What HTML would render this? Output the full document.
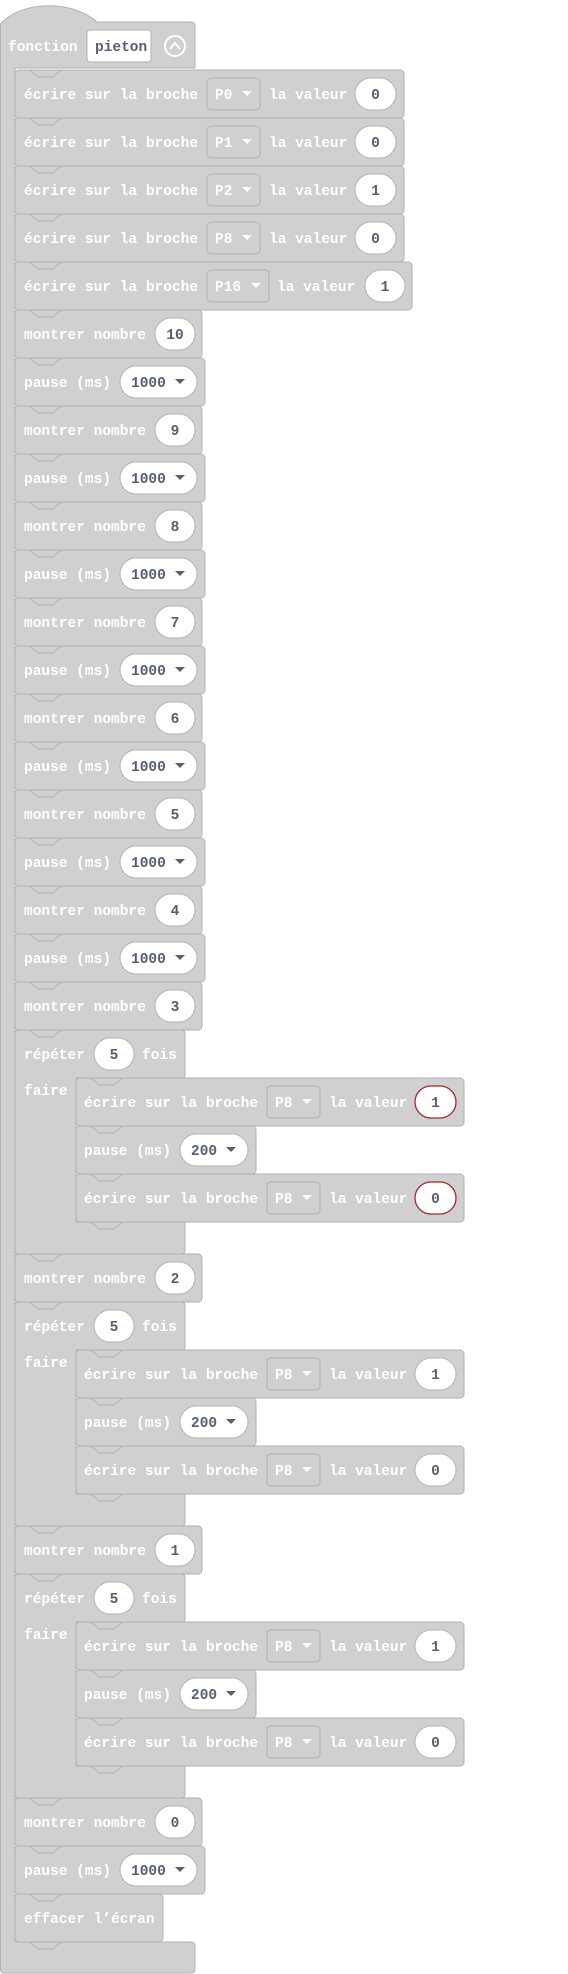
<!DOCTYPE html>
<html><head><meta charset="utf-8"><style>
html,body{margin:0;padding:0;background:#fff;width:568px;height:1974px;overflow:hidden}
svg{display:block}
.b{fill:#d0d0d0;stroke:#b2b2b2;stroke-width:1}
.n{fill:none;stroke:#b2b2b2;stroke-width:1}
.dd{fill:#d0d0d0;stroke:#b2b2b2}
.pl{fill:#fff;stroke:#b2b2b2}
.pr{fill:#fff;stroke:#a3282f;stroke-width:1.3}
.a{fill:#fff}
.ad{fill:#575e75}
text{font-family:"Liberation Mono",monospace;font-weight:bold;font-size:14.5px;fill:#fff}
text.v{fill:#575e75;text-anchor:middle}
text.d{fill:#575e75}
</style></head><body>
<svg width="568" height="1974" viewBox="0 0 568 1974" xmlns="http://www.w3.org/2000/svg">
<!-- function outer -->
<path class="b" d="M0.5,24 C22,0 72,0 97,22 H191 Q195,22 195,26 V68 H15 V1942 H191 Q195,1942 195,1946 V1969 Q195,1973 191,1973 H4 Q0.5,1973 0.5,1969 Z"/>
<path class="n" d="M30,1942 L38,1949 H53 L61,1942"/>
<text x="8" y="51">fonction</text>
<rect x="87" y="30" width="64" height="32" rx="3" fill="#fff" stroke="#b2b2b2"/>
<text class="d" x="95" y="51">pieton</text>
<circle cx="175" cy="46" r="10" fill="none" stroke="#fff" stroke-width="2"/>
<path d="M170,49 L175,43 L180,49" fill="none" stroke="#fff" stroke-width="2"/>

<!-- write blocks -->
<g transform="translate(15,70)"><rect class="b" width="389" height="48" rx="4"/><path class="n" d="M15,0 L23,7 H38 L46,0"/><text x="9" y="29">écrire sur la broche</text><rect class="dd" x="192" y="8" width="53" height="32" rx="4"/><text x="200" y="29">P0</text><path class="a" d="M227,21 h10 l-5,5z"/><text x="254" y="29">la valeur</text><rect class="pl" x="340" y="8" width="41" height="32" rx="16"/><text class="v" x="360.5" y="29">0</text></g>
<g transform="translate(15,118)"><rect class="b" width="389" height="48" rx="4"/><path class="n" d="M15,0 L23,7 H38 L46,0"/><text x="9" y="29">écrire sur la broche</text><rect class="dd" x="192" y="8" width="53" height="32" rx="4"/><text x="200" y="29">P1</text><path class="a" d="M227,21 h10 l-5,5z"/><text x="254" y="29">la valeur</text><rect class="pl" x="340" y="8" width="41" height="32" rx="16"/><text class="v" x="360.5" y="29">0</text></g>
<g transform="translate(15,166)"><rect class="b" width="389" height="48" rx="4"/><path class="n" d="M15,0 L23,7 H38 L46,0"/><text x="9" y="29">écrire sur la broche</text><rect class="dd" x="192" y="8" width="53" height="32" rx="4"/><text x="200" y="29">P2</text><path class="a" d="M227,21 h10 l-5,5z"/><text x="254" y="29">la valeur</text><rect class="pl" x="340" y="8" width="41" height="32" rx="16"/><text class="v" x="360.5" y="29">1</text></g>
<g transform="translate(15,214)"><rect class="b" width="389" height="48" rx="4"/><path class="n" d="M15,0 L23,7 H38 L46,0"/><text x="9" y="29">écrire sur la broche</text><rect class="dd" x="192" y="8" width="53" height="32" rx="4"/><text x="200" y="29">P8</text><path class="a" d="M227,21 h10 l-5,5z"/><text x="254" y="29">la valeur</text><rect class="pl" x="340" y="8" width="41" height="32" rx="16"/><text class="v" x="360.5" y="29">0</text></g>
<g transform="translate(15,262)"><rect class="b" width="397" height="48" rx="4"/><path class="n" d="M15,0 L23,7 H38 L46,0"/><text x="9" y="29">écrire sur la broche</text><rect class="dd" x="192" y="8" width="62" height="32" rx="4"/><text x="200" y="29">P16</text><path class="a" d="M236,21 h10 l-5,5z"/><text x="262" y="29">la valeur</text><rect class="pl" x="350" y="8" width="40" height="32" rx="16"/><text class="v" x="370" y="29">1</text></g>

<!-- montrer / pause sequence -->
<g transform="translate(15,310)"><rect class="b" width="187" height="48" rx="4"/><path class="n" d="M15,0 L23,7 H38 L46,0"/><text x="9" y="29">montrer nombre</text><rect class="pl" x="140" y="8" width="40" height="32" rx="16"/><text class="v" x="160" y="29">10</text></g>
<g transform="translate(15,358)"><rect class="b" width="190" height="48" rx="4"/><path class="n" d="M15,0 L23,7 H38 L46,0"/><text x="9" y="29">pause (ms)</text><rect class="pl" x="105" y="8" width="77" height="32" rx="16"/><text class="d" x="116" y="29">1000</text><path class="ad" d="M160,21 h10 l-5,5z"/></g>
<g transform="translate(15,406)"><rect class="b" width="187" height="48" rx="4"/><path class="n" d="M15,0 L23,7 H38 L46,0"/><text x="9" y="29">montrer nombre</text><rect class="pl" x="140" y="8" width="40" height="32" rx="16"/><text class="v" x="160" y="29">9</text></g>
<g transform="translate(15,454)"><rect class="b" width="190" height="48" rx="4"/><path class="n" d="M15,0 L23,7 H38 L46,0"/><text x="9" y="29">pause (ms)</text><rect class="pl" x="105" y="8" width="77" height="32" rx="16"/><text class="d" x="116" y="29">1000</text><path class="ad" d="M160,21 h10 l-5,5z"/></g>
<g transform="translate(15,502)"><rect class="b" width="187" height="48" rx="4"/><path class="n" d="M15,0 L23,7 H38 L46,0"/><text x="9" y="29">montrer nombre</text><rect class="pl" x="140" y="8" width="40" height="32" rx="16"/><text class="v" x="160" y="29">8</text></g>
<g transform="translate(15,550)"><rect class="b" width="190" height="48" rx="4"/><path class="n" d="M15,0 L23,7 H38 L46,0"/><text x="9" y="29">pause (ms)</text><rect class="pl" x="105" y="8" width="77" height="32" rx="16"/><text class="d" x="116" y="29">1000</text><path class="ad" d="M160,21 h10 l-5,5z"/></g>
<g transform="translate(15,598)"><rect class="b" width="187" height="48" rx="4"/><path class="n" d="M15,0 L23,7 H38 L46,0"/><text x="9" y="29">montrer nombre</text><rect class="pl" x="140" y="8" width="40" height="32" rx="16"/><text class="v" x="160" y="29">7</text></g>
<g transform="translate(15,646)"><rect class="b" width="190" height="48" rx="4"/><path class="n" d="M15,0 L23,7 H38 L46,0"/><text x="9" y="29">pause (ms)</text><rect class="pl" x="105" y="8" width="77" height="32" rx="16"/><text class="d" x="116" y="29">1000</text><path class="ad" d="M160,21 h10 l-5,5z"/></g>
<g transform="translate(15,694)"><rect class="b" width="187" height="48" rx="4"/><path class="n" d="M15,0 L23,7 H38 L46,0"/><text x="9" y="29">montrer nombre</text><rect class="pl" x="140" y="8" width="40" height="32" rx="16"/><text class="v" x="160" y="29">6</text></g>
<g transform="translate(15,742)"><rect class="b" width="190" height="48" rx="4"/><path class="n" d="M15,0 L23,7 H38 L46,0"/><text x="9" y="29">pause (ms)</text><rect class="pl" x="105" y="8" width="77" height="32" rx="16"/><text class="d" x="116" y="29">1000</text><path class="ad" d="M160,21 h10 l-5,5z"/></g>
<g transform="translate(15,790)"><rect class="b" width="187" height="48" rx="4"/><path class="n" d="M15,0 L23,7 H38 L46,0"/><text x="9" y="29">montrer nombre</text><rect class="pl" x="140" y="8" width="40" height="32" rx="16"/><text class="v" x="160" y="29">5</text></g>
<g transform="translate(15,838)"><rect class="b" width="190" height="48" rx="4"/><path class="n" d="M15,0 L23,7 H38 L46,0"/><text x="9" y="29">pause (ms)</text><rect class="pl" x="105" y="8" width="77" height="32" rx="16"/><text class="d" x="116" y="29">1000</text><path class="ad" d="M160,21 h10 l-5,5z"/></g>
<g transform="translate(15,886)"><rect class="b" width="187" height="48" rx="4"/><path class="n" d="M15,0 L23,7 H38 L46,0"/><text x="9" y="29">montrer nombre</text><rect class="pl" x="140" y="8" width="40" height="32" rx="16"/><text class="v" x="160" y="29">4</text></g>
<g transform="translate(15,934)"><rect class="b" width="190" height="48" rx="4"/><path class="n" d="M15,0 L23,7 H38 L46,0"/><text x="9" y="29">pause (ms)</text><rect class="pl" x="105" y="8" width="77" height="32" rx="16"/><text class="d" x="116" y="29">1000</text><path class="ad" d="M160,21 h10 l-5,5z"/></g>
<g transform="translate(15,982)"><rect class="b" width="187" height="48" rx="4"/><path class="n" d="M15,0 L23,7 H38 L46,0"/><text x="9" y="29">montrer nombre</text><rect class="pl" x="140" y="8" width="40" height="32" rx="16"/><text class="v" x="160" y="29">3</text></g>

<!-- repeat 1 -->
<g transform="translate(15,1030)">
<path class="b" d="M0,4 Q0,0 4,0 H166 Q170,0 170,4 V48 H61 V192 H170 V220 Q170,224 166,224 H4 Q0,224 0,220 Z"/>
<path class="n" d="M15,0 L23,7 H38 L46,0"/><path class="n" d="M76,192 L84,199 H99 L107,192"/>
<text x="9" y="29">répéter</text><rect class="pl" x="79" y="8" width="40" height="32" rx="16"/><text class="v" x="99" y="29">5</text><text x="127" y="29">fois</text>
<text x="9" y="65">faire</text>
</g>
<g transform="translate(76,1078)"><rect class="b" width="388" height="48" rx="4"/><path class="n" d="M15,0 L23,7 H38 L46,0"/><text x="8" y="29">écrire sur la broche</text><rect class="dd" x="191" y="8" width="53" height="32" rx="4"/><text x="199" y="29">P8</text><path class="a" d="M226,21 h10 l-5,5z"/><text x="253" y="29">la valeur</text><rect class="pr" x="339" y="8" width="41" height="32" rx="16"/><text class="v" x="359.5" y="29">1</text></g>
<g transform="translate(76,1126)"><rect class="b" width="180" height="48" rx="4"/><path class="n" d="M15,0 L23,7 H38 L46,0"/><text x="8" y="29">pause (ms)</text><rect class="pl" x="104" y="8" width="68" height="32" rx="16"/><text class="d" x="115" y="29">200</text><path class="ad" d="M150,21 h10 l-5,5z"/></g>
<g transform="translate(76,1174)"><rect class="b" width="388" height="48" rx="4"/><path class="n" d="M15,0 L23,7 H38 L46,0"/><text x="8" y="29">écrire sur la broche</text><rect class="dd" x="191" y="8" width="53" height="32" rx="4"/><text x="199" y="29">P8</text><path class="a" d="M226,21 h10 l-5,5z"/><text x="253" y="29">la valeur</text><rect class="pr" x="339" y="8" width="41" height="32" rx="16"/><text class="v" x="359.5" y="29">0</text></g>

<g transform="translate(15,1254)"><rect class="b" width="187" height="48" rx="4"/><path class="n" d="M15,0 L23,7 H38 L46,0"/><text x="9" y="29">montrer nombre</text><rect class="pl" x="140" y="8" width="40" height="32" rx="16"/><text class="v" x="160" y="29">2</text></g>

<!-- repeat 2 -->
<g transform="translate(15,1302)">
<path class="b" d="M0,4 Q0,0 4,0 H166 Q170,0 170,4 V48 H61 V192 H170 V220 Q170,224 166,224 H4 Q0,224 0,220 Z"/>
<path class="n" d="M15,0 L23,7 H38 L46,0"/><path class="n" d="M76,192 L84,199 H99 L107,192"/>
<text x="9" y="29">répéter</text><rect class="pl" x="79" y="8" width="40" height="32" rx="16"/><text class="v" x="99" y="29">5</text><text x="127" y="29">fois</text>
<text x="9" y="65">faire</text>
</g>
<g transform="translate(76,1350)"><rect class="b" width="388" height="48" rx="4"/><path class="n" d="M15,0 L23,7 H38 L46,0"/><text x="8" y="29">écrire sur la broche</text><rect class="dd" x="191" y="8" width="53" height="32" rx="4"/><text x="199" y="29">P8</text><path class="a" d="M226,21 h10 l-5,5z"/><text x="253" y="29">la valeur</text><rect class="pl" x="339" y="8" width="41" height="32" rx="16"/><text class="v" x="359.5" y="29">1</text></g>
<g transform="translate(76,1398)"><rect class="b" width="180" height="48" rx="4"/><path class="n" d="M15,0 L23,7 H38 L46,0"/><text x="8" y="29">pause (ms)</text><rect class="pl" x="104" y="8" width="68" height="32" rx="16"/><text class="d" x="115" y="29">200</text><path class="ad" d="M150,21 h10 l-5,5z"/></g>
<g transform="translate(76,1446)"><rect class="b" width="388" height="48" rx="4"/><path class="n" d="M15,0 L23,7 H38 L46,0"/><text x="8" y="29">écrire sur la broche</text><rect class="dd" x="191" y="8" width="53" height="32" rx="4"/><text x="199" y="29">P8</text><path class="a" d="M226,21 h10 l-5,5z"/><text x="253" y="29">la valeur</text><rect class="pl" x="339" y="8" width="41" height="32" rx="16"/><text class="v" x="359.5" y="29">0</text></g>

<g transform="translate(15,1526)"><rect class="b" width="187" height="48" rx="4"/><path class="n" d="M15,0 L23,7 H38 L46,0"/><text x="9" y="29">montrer nombre</text><rect class="pl" x="140" y="8" width="40" height="32" rx="16"/><text class="v" x="160" y="29">1</text></g>

<!-- repeat 3 -->
<g transform="translate(15,1574)">
<path class="b" d="M0,4 Q0,0 4,0 H166 Q170,0 170,4 V48 H61 V192 H170 V220 Q170,224 166,224 H4 Q0,224 0,220 Z"/>
<path class="n" d="M15,0 L23,7 H38 L46,0"/><path class="n" d="M76,192 L84,199 H99 L107,192"/>
<text x="9" y="29">répéter</text><rect class="pl" x="79" y="8" width="40" height="32" rx="16"/><text class="v" x="99" y="29">5</text><text x="127" y="29">fois</text>
<text x="9" y="65">faire</text>
</g>
<g transform="translate(76,1622)"><rect class="b" width="388" height="48" rx="4"/><path class="n" d="M15,0 L23,7 H38 L46,0"/><text x="8" y="29">écrire sur la broche</text><rect class="dd" x="191" y="8" width="53" height="32" rx="4"/><text x="199" y="29">P8</text><path class="a" d="M226,21 h10 l-5,5z"/><text x="253" y="29">la valeur</text><rect class="pl" x="339" y="8" width="41" height="32" rx="16"/><text class="v" x="359.5" y="29">1</text></g>
<g transform="translate(76,1670)"><rect class="b" width="180" height="48" rx="4"/><path class="n" d="M15,0 L23,7 H38 L46,0"/><text x="8" y="29">pause (ms)</text><rect class="pl" x="104" y="8" width="68" height="32" rx="16"/><text class="d" x="115" y="29">200</text><path class="ad" d="M150,21 h10 l-5,5z"/></g>
<g transform="translate(76,1718)"><rect class="b" width="388" height="48" rx="4"/><path class="n" d="M15,0 L23,7 H38 L46,0"/><text x="8" y="29">écrire sur la broche</text><rect class="dd" x="191" y="8" width="53" height="32" rx="4"/><text x="199" y="29">P8</text><path class="a" d="M226,21 h10 l-5,5z"/><text x="253" y="29">la valeur</text><rect class="pl" x="339" y="8" width="41" height="32" rx="16"/><text class="v" x="359.5" y="29">0</text></g>

<g transform="translate(15,1798)"><rect class="b" width="187" height="48" rx="4"/><path class="n" d="M15,0 L23,7 H38 L46,0"/><text x="9" y="29">montrer nombre</text><rect class="pl" x="140" y="8" width="40" height="32" rx="16"/><text class="v" x="160" y="29">0</text></g>
<g transform="translate(15,1846)"><rect class="b" width="190" height="48" rx="4"/><path class="n" d="M15,0 L23,7 H38 L46,0"/><text x="9" y="29">pause (ms)</text><rect class="pl" x="105" y="8" width="77" height="32" rx="16"/><text class="d" x="116" y="29">1000</text><path class="ad" d="M160,21 h10 l-5,5z"/></g>
<g transform="translate(15,1894)"><rect class="b" width="148" height="48" rx="4"/><path class="n" d="M15,0 L23,7 H38 L46,0"/><text x="9" y="29">effacer l’écran</text></g>
</svg>
</body></html>
